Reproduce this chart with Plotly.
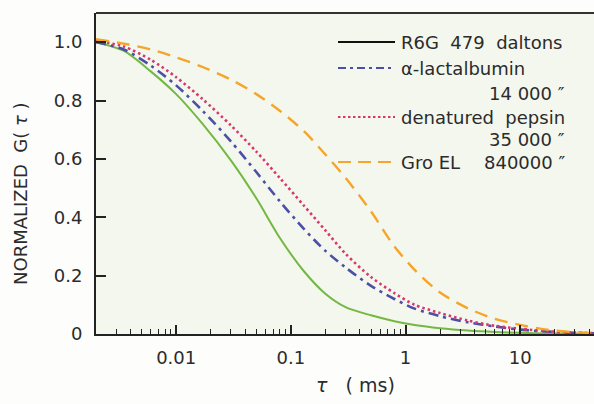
import math
import plotly.graph_objects as go

# ---- data ----
tau_ms = [0.002, 0.0035, 0.006, 0.01, 0.017, 0.03, 0.05, 0.08, 0.13, 0.2, 0.3,
          0.5, 0.8, 1.2, 2, 3.5, 6, 10, 18, 30, 44]
g_r6g = [1.0, 0.970, 0.900, 0.822, 0.720, 0.595, 0.465, 0.330, 0.215, 0.138, 0.092,
         0.064, 0.044, 0.031, 0.020, 0.012, 0.007, 0.004, 0.002, 0.001, 0.0]
g_lact = [1.0, 0.975, 0.92, 0.852, 0.765, 0.66, 0.555, 0.455, 0.36, 0.285, 0.228,
          0.165, 0.12, 0.087, 0.061, 0.04, 0.026, 0.015, 0.008, 0.004, 0.002]
g_pepsin = [1.005, 0.985, 0.94, 0.88, 0.805, 0.715, 0.625, 0.535, 0.44, 0.355, 0.275,
            0.195, 0.14, 0.10, 0.072, 0.046, 0.028, 0.018, 0.009, 0.005, 0.003]
g_groel = [1.01, 0.995, 0.975, 0.948, 0.915, 0.872, 0.822, 0.765, 0.695, 0.615, 0.535,
           0.42, 0.30, 0.22, 0.142, 0.088, 0.052, 0.031, 0.014, 0.006, 0.003]

x_major_ticks = [0.01, 0.1, 1, 10]
x_major_labels = ["0.01", "0.1", "1", "10"]
y_ticks = [0, 0.2, 0.4, 0.6, 0.8, 1.0]
y_tick_labels = ["0", "0.2", "0.4", "0.6", "0.8", "1.0"]
x_minor_ticks = [m * 10 ** e for e in range(-3, 2) for m in range(2, 10)
                 if 0.002 <= m * 10 ** e <= 44]

legend_names = ["R6G", "α-lactalbumin", "denatured  pepsin", "Gro EL"]
legend_mass = ["479  daltons", "14 000 ″", "35 000 ″", "840000 ″"]

# ---- layout geometry (pixels) ----
W, H = 594, 404
L, R, T, B = 96, 594, 13, 334
XMIN, XMAX = 0.002, 44

def px(x):
    return (x - L) / (R - L)

def py(y):
    return (B - y) / (B - T)

FONT = "DejaVu Sans"
TXT = "#2b2b2b"

fig = go.Figure()
styles = [
    (g_r6g, "#72b843", "solid", 2),
    (g_lact, "#4b4fa6", "10px,5px,3px,5px", 2.6),
    (g_pepsin, "#d8366f", "2.5px,3px", 2.6),
    (g_groel, "#f4a52a", "13px,8px", 2.4),
]
for (g, c, d, w), nm in zip(styles, legend_names):
    fig.add_trace(go.Scatter(x=tau_ms, y=g, mode="lines", name=nm,
                             line=dict(color=c, dash=d, width=w, shape="spline",
                                       smoothing=0.8),
                             showlegend=False, hoverinfo="skip"))

# invisible trace on a twin axis for minor ticks
fig.add_trace(go.Scatter(x=[XMIN, XMAX], y=[0, 0], xaxis="x2", mode="lines",
                         line=dict(width=0), showlegend=False, hoverinfo="skip"))

fig.update_layout(
    width=W, height=H,
    margin=dict(l=L, r=W - R, t=T, b=H - B),
    paper_bgcolor="#fdfdfc",
    plot_bgcolor="#f4f7ee",
    font=dict(family=FONT, color=TXT, size=18),
    xaxis=dict(type="log", range=[math.log10(XMIN), math.log10(XMAX)],
               tickvals=x_major_ticks, ticktext=x_major_labels,
               ticks="inside", ticklen=9, tickwidth=1.6, tickcolor="#222",
               showline=True, linecolor="#222", linewidth=2,
               showgrid=False, zeroline=False, ticklabelstandoff=6,
               tickfont=dict(size=18)),
    xaxis2=dict(type="log", range=[math.log10(XMIN), math.log10(XMAX)],
                overlaying="x", side="bottom", tickvals=x_minor_ticks,
                showticklabels=False, ticks="inside", ticklen=5, tickwidth=1.4,
                tickcolor="#222", showgrid=False, zeroline=False, showline=False),
    yaxis=dict(range=[0, 1.1], tickvals=y_ticks, ticktext=y_tick_labels,
               ticks="inside", ticklen=10, tickwidth=1.6, tickcolor="#222",
               showline=True, linecolor="#222", linewidth=2,
               showgrid=False, zeroline=False, ticklabelstandoff=8,
               tickfont=dict(size=18)),
)

# top border line
fig.add_shape(type="line", xref="paper", yref="paper", x0=0, x1=1, y0=1, y1=1,
              line=dict(color="#333", width=2))

# legend samples
leg_y = [42, 68, 117, 162]
leg_colors = ["#111111", "#4b4fa6", "#d8366f", "#f4a52a"]
leg_dash = ["solid", "8px,4px,3px,4px", "2.5px,2.5px", "13px,7px"]
for y, c, d in zip(leg_y, leg_colors, leg_dash):
    fig.add_shape(type="line", xref="paper", yref="paper",
                  x0=px(338), x1=px(395), y0=py(y), y1=py(y),
                  line=dict(color=c, dash=d, width=2.2))

def txt(x, y, s, anchor="left", size=18):
    fig.add_annotation(xref="paper", yref="paper", x=px(x), y=py(y), text=s,
                       showarrow=False, xanchor=anchor, yanchor="middle",
                       font=dict(size=size, color=TXT, family=FONT))

txt(399, 42, legend_names[0] + "  " + legend_mass[0])
txt(399, 68, legend_names[1])
txt(567, 93, legend_mass[1], "right")
txt(399, 117, legend_names[2])
txt(567, 139, legend_mass[2], "right")
txt(399, 162, legend_names[3])
txt(567, 162, legend_mass[3], "right")

# axis titles
fig.add_annotation(xref="paper", yref="paper", x=px(355), y=py(385),
                   xanchor="center", yanchor="middle",
                   text="<i>τ</i>   ( ms)", showarrow=False,
                   font=dict(size=19, color=TXT, family=FONT))
fig.add_annotation(xref="paper", yref="paper", x=px(21), y=py(194),
                   xanchor="center", yanchor="middle",
                   text="NORMALIZED  G( <i>τ</i> )", showarrow=False, textangle=-90,
                   font=dict(size=18, color=TXT, family=FONT))

fig.write_html("out.html", config={"displayModeBar": False},
               post_script="document.body.style.margin='0';")
